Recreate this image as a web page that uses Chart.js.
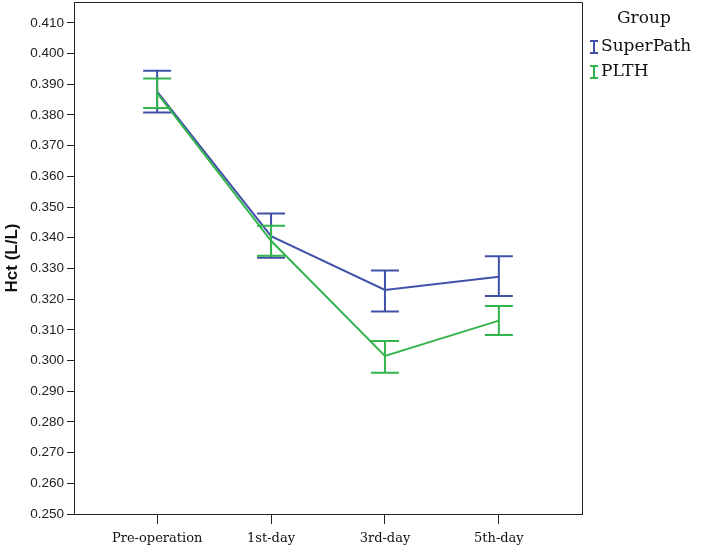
<!DOCTYPE html>
<html>
<head>
<meta charset="utf-8">
<script src="https://cdn.jsdelivr.net/npm/chart.js@4.4.0/dist/chart.umd.min.js"></script>
<style>
  html, body { margin: 0; padding: 0; background: #fff; }
  #wrap { width: 709px; height: 547px; }
</style>
</head>
<body>
<div id="wrap"><canvas id="hctChart" width="709" height="547"></canvas></div>
<script>
const categories = ['Pre-operation', '1st-day', '3rd-day', '5th-day'];
const yTicks = [0.25, 0.26, 0.27, 0.28, 0.29, 0.30, 0.31, 0.32, 0.33, 0.34, 0.35, 0.36, 0.37, 0.38, 0.39, 0.40, 0.41];

const superPathMean = [0.3876, 0.3405, 0.3230, 0.3273];
const superPathLow = [0.3808, 0.3335, 0.3160, 0.3210];
const superPathHigh = [0.3944, 0.3479, 0.3293, 0.3340];

const plthMean = [0.3871, 0.3390, 0.3015, 0.3130];
const plthLow = [0.3823, 0.3341, 0.2960, 0.3083];
const plthHigh = [0.3919, 0.3439, 0.3064, 0.3178];

const BLUE = '#4151a8';
const GREEN = '#34b44c';

const errorBars = {
    id: 'errorBars',
    afterDatasetsDraw(chart) {
        const { ctx, scales: { x, y } } = chart;
        // same order as the lines: higher order drawn first
        const metas = chart.getSortedVisibleDatasetMetas().slice().reverse();
        metas.forEach(meta => {
            const ds = chart.data.datasets[meta.index];
            ctx.save();
            ctx.strokeStyle = ds.borderColor;
            ctx.lineWidth = 2;
            ds.data.forEach((p, i) => {
                const px = x.getPixelForValue(p.x);
                const top = y.getPixelForValue(ds.high[i]);
                const bot = y.getPixelForValue(ds.low[i]);
                ctx.beginPath();
                ctx.moveTo(px, top); ctx.lineTo(px, bot);
                ctx.moveTo(px - 14, top); ctx.lineTo(px + 14, top);
                ctx.moveTo(px - 14, bot); ctx.lineTo(px + 14, bot);
                ctx.stroke();
            });
            ctx.restore();
        });
    }
};

const frameAndLegend = {
    id: 'frameAndLegend',
    afterDraw(chart) {
        const { ctx, chartArea: a } = chart;
        ctx.save();
        ctx.strokeStyle = '#222';
        ctx.lineWidth = 1;
        ctx.beginPath();
        ctx.moveTo(a.left, a.top + 0.5); ctx.lineTo(a.right + 0.5, a.top + 0.5);
        ctx.lineTo(a.right + 0.5, a.bottom);
        ctx.stroke();

        ctx.fillStyle = '#111';
        ctx.font = '17px "DejaVu Serif"';
        ctx.textBaseline = 'middle';
        ctx.textAlign = 'left';
        ctx.fillText('Group', 617, 19);
        const items = [['SuperPath', BLUE, 47], ['PLTH', GREEN, 72]];
        items.forEach(([label, color, yy]) => {
            ctx.strokeStyle = color;
            ctx.lineWidth = 2;
            ctx.beginPath();
            ctx.moveTo(594, yy - 6); ctx.lineTo(594, yy + 6);
            ctx.moveTo(590, yy - 6); ctx.lineTo(598, yy - 6);
            ctx.moveTo(590, yy + 6); ctx.lineTo(598, yy + 6);
            ctx.stroke();
            ctx.fillStyle = '#111';
            ctx.fillText(label, 601, yy);
        });
        ctx.restore();
    }
};

function toPoints(arr) {
    return arr.map((v, i) => ({ x: i, y: v }));
}

new Chart(document.getElementById('hctChart'), {
    type: 'line',
    data: {
        datasets: [
            {
                label: 'SuperPath',
                data: toPoints(superPathMean),
                low: superPathLow,
                high: superPathHigh,
                borderColor: BLUE,
                borderWidth: 2,
                pointRadius: 0,
                order: 1
            },
            {
                label: 'PLTH',
                data: toPoints(plthMean),
                low: plthLow,
                high: plthHigh,
                borderColor: GREEN,
                borderWidth: 2,
                pointRadius: 0,
                order: 0
            }
        ]
    },
    options: {
        responsive: false,
        animation: false,
        layout: { padding: { top: 2, right: 127, left: 0, bottom: 0 } },
        plugins: { legend: { display: false }, tooltip: { enabled: false } },
        scales: {
            x: {
                type: 'linear',
                min: -0.73,
                max: 3.73,
                afterBuildTicks: s => { s.ticks = categories.map((_, i) => ({ value: i })); },
                afterFit: s => { s.height = 33; s.paddingLeft = 0; s.paddingRight = 0; },
                ticks: {
                    callback: v => categories[v],
                    color: '#111',
                    font: { family: '"DejaVu Serif"', size: 13 },
                    padding: 7,
                    maxRotation: 0,
                    autoSkip: false
                },
                grid: { drawOnChartArea: false, tickLength: 10, tickColor: '#222' },
                border: { color: '#222', width: 1 }
            },
            y: {
                min: 0.25,
                max: 0.4168,
                afterBuildTicks: s => { s.ticks = yTicks.map(v => ({ value: v })); },
                afterFit: s => { s.width = 74; s.paddingTop = 0; s.paddingBottom = 0; },
                ticks: {
                    callback: v => v.toFixed(3),
                    color: '#222',
                    font: { family: '"Liberation Sans"', size: 13.5 },
                    padding: 3
                },
                grid: { drawOnChartArea: false, tickLength: 7, tickColor: '#222' },
                border: { color: '#222', width: 1 },
                title: {
                    display: true,
                    text: 'Hct (L/L)',
                    color: '#111',
                    font: { family: '"Liberation Sans"', size: 17, weight: 'bold' },
                    padding: { top: 2, bottom: 0 }
                }
            }
        }
    },
    plugins: [errorBars, frameAndLegend]
});
</script>
</body>
</html>
